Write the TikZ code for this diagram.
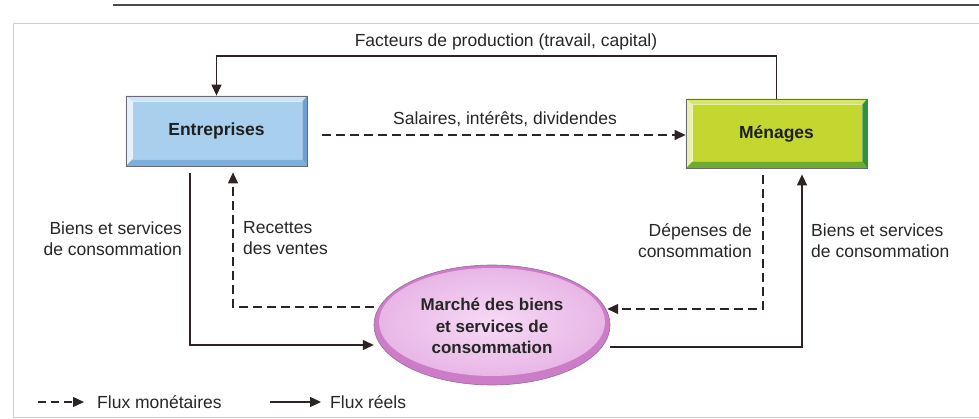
\documentclass[tikz,border=0pt]{standalone}
\usepackage{fontspec}
\setmainfont{Liberation Sans}
\usetikzlibrary{arrows.meta,shapes.geometric,calc,backgrounds}
\definecolor{ink}{RGB}{45,35,35}
\definecolor{frame}{RGB}{205,205,205}
\definecolor{boxline}{RGB}{105,105,115}
\definecolor{entMain}{RGB}{168,208,238}
\definecolor{entTop}{RGB}{205,228,247}
\definecolor{entLeft}{RGB}{228,240,250}
\definecolor{entBot}{RGB}{125,175,220}
\definecolor{entRight}{RGB}{110,160,210}
\definecolor{menMain}{RGB}{196,214,48}
\definecolor{menTop}{RGB}{214,228,105}
\definecolor{menLeft}{RGB}{236,240,175}
\definecolor{menBot}{RGB}{110,172,45}
\definecolor{menRight}{RGB}{50,145,55}
\definecolor{marRim}{RGB}{205,125,200}
\definecolor{marIn}{RGB}{246,218,246}
\definecolor{marOut}{RGB}{232,182,230}
\definecolor{marLine}{RGB}{150,110,150}
\newcommand\bevelbox[6]{%
  \fill[#3] (#1.north west) -- (#1.north east) -- ($(#1.north east)+(-5,6)$) -- ($(#1.north west)+(7,6)$) -- cycle;
  \fill[#4] (#1.north west) -- ($(#1.north west)+(7,6)$) -- ($(#1.south west)+(7,-7)$) -- (#1.south west) -- cycle;
  \fill[#5] (#1.south west) -- ($(#1.south west)+(7,-7)$) -- ($(#1.south east)+(-5,-7)$) -- (#1.south east) -- cycle;
  \fill[#6] (#1.north east) -- (#1.south east) -- ($(#1.south east)+(-5,-7)$) -- ($(#1.north east)+(-5,6)$) -- cycle;
  \fill[#2] ($(#1.north west)+(7,6)$) rectangle ($(#1.south east)+(-5,-7)$);
}
\begin{document}
\begin{tikzpicture}[x=1pt,y=-1pt,
  real/.style={draw=ink, line width=1.3pt, -{Triangle[length=11pt,width=10pt]}},
  money/.style={real, dash pattern=on 9pt off 5pt},
  lbl/.style={font=\fontsize{17.5}{21}\selectfont, inner sep=0pt, text=black!85},
  boxnode/.style={rectangle, minimum width=181pt, minimum height=70pt, inner sep=0pt, draw=boxline, line width=0.8pt, font=\fontsize{17.5}{21}\selectfont\bfseries, text=black!88}]
\useasboundingbox (0,0) rectangle (979,419);
% scan frame
\draw[black!70, line width=1.2pt] (113,5) -- (979,5);
\draw[frame, line width=1pt] (979,24) -- (13,24) -- (13,417) -- (979,417);

% nodes
\node[boxnode] (ent) at (216.5,131) {Entreprises};
\node[boxnode, minimum height=69pt] (men) at (776.5,133.5) {Ménages};
\node[ellipse, minimum width=236pt, minimum height=120pt, inner sep=0pt,
      font=\fontsize{17}{21.5}\selectfont\bfseries, align=center, text=black!85] (mar) at (492,325)
      {\strut Marché des biens\\et services de\\consommation};

\begin{scope}[on background layer]
  \bevelbox{ent}{entMain}{entTop}{entLeft}{entBot}{entRight}
  \bevelbox{men}{menMain}{menTop}{menLeft}{menBot}{menRight}
  \fill[marRim] (mar.center) ellipse [x radius=118, y radius=60];
  \shade[inner color=marIn, outer color=marOut] ($(mar.center)+(0,-3)$) ellipse [x radius=113, y radius=54];
  \draw[marLine, line width=0.6pt] (mar.center) ellipse [x radius=118, y radius=60];
\end{scope}

% helper coordinates
\coordinate (topy) at (0,56);
\coordinate (saly) at (0,135);
\coordinate (lx) at (190,0);
\coordinate (ly) at (0,345);
\coordinate (rx) at (233,0);
\coordinate (ry) at (0,307);
\coordinate (dx) at (763,0);
\coordinate (dy) at (0,309);
\coordinate (sx) at (802,0);
\coordinate (sy) at (0,347);

% connectors
\draw[real] (men.north) -- (men.north |- topy) -| (ent.north);
\draw[money, shorten <=15pt] (ent.east |- saly) -- (men.west |- saly);
\draw[real, shorten <=7pt] (ent.south -| lx) |- (mar.west |- ly);
\draw[money, shorten >=6pt] (mar.west |- ry) -| (ent.south -| rx);
\draw[money, shorten <=7pt, shorten >=-3pt] (men.south -| dx) |- (mar.east |- dy);
\draw[real, shorten >=6pt] (mar.east |- sy) -| (men.south -| sx);

% labels
\node[lbl] (lfac) at (506,42) {Facteurs de production (travail, capital)};
\node[lbl] (lsal) at (505,119) {Salaires, intérêts, dividendes};
\node[lbl, anchor=east, align=right] (lbl1) at (182,238.5) {Biens et services\\de consommation};
\node[lbl, anchor=west, align=left] (lrec) at (243,238.5) {Recettes\\des ventes};
\node[lbl, anchor=east, align=right] (ldep) at (752,240.5) {Dépenses de\\consommation};
\node[lbl, anchor=west, align=left] (lbl2) at (811,240.5) {Biens et services\\de consommation};

% legend
\coordinate (lg1a) at (38,402);
\coordinate (lg1b) at (84,402);
\coordinate (lg2a) at (270,402);
\coordinate (lg2b) at (321,402);
\draw[money, dash pattern=on 8pt off 5pt] (lg1a) -- (lg1b);
\draw[real] (lg2a) -- (lg2b);
\node[lbl, anchor=west] (lgt1) at (97,402) {Flux monétaires};
\node[lbl, anchor=west] (lgt2) at (330,402) {Flux réels};
\end{tikzpicture}
\end{document}
